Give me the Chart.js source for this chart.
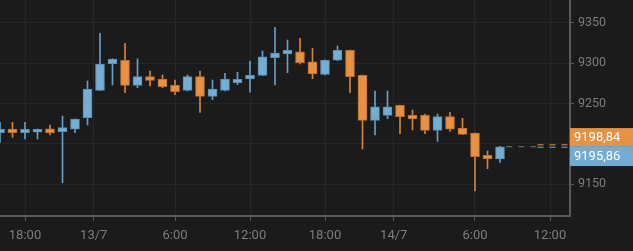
<!DOCTYPE html>
<html>
<head>
<meta charset="utf-8">
<script src="https://cdn.jsdelivr.net/npm/chart.js@4.4.1/dist/chart.umd.min.js"></script>
<style>
  html, body { margin: 0; padding: 0; background: #1b1b1b; }
  canvas { display: block; }
</style>
</head>
<body>
<canvas id="myChart" width="633" height="251"></canvas>
<script>
// hourly candles, x = hours after 12/7 18:00
const hours = [-2, -1, 0, 1, 2, 3, 4, 5, 6, 7, 8, 9, 10, 11, 12, 13, 14, 15, 16, 17, 18, 19, 20,
  21, 22, 23, 24, 25, 26, 27, 28, 29, 30, 31, 32, 33, 34, 35, 36, 37, 38];
const open = [9213.9, 9218.4, 9214.0, 9214.4, 9218.8, 9215.1, 9218.1, 9232.4, 9266.3, 9298.9, 9303.5,
  9272.5, 9283.2, 9280.3, 9272.5, 9266.3, 9283.2, 9258.9, 9266.3, 9275.7, 9280.3, 9284.9, 9306.7,
  9311.3, 9314.1, 9301.7, 9286.1, 9303.5, 9315.8, 9284.9, 9229.2, 9235.4, 9247.8, 9235.4, 9235.4,
  9216.8, 9233.7, 9219.7, 9213.5, 9185.9, 9181.3];
const high = [9226.7, 9226.7, 9226.7, 9218.5, 9223.4, 9234.5, 9231.0, 9277.8, 9336.9, 9305.5, 9324.5,
  9305.4, 9290.2, 9285.3, 9279.1, 9285.3, 9290.2, 9279.1, 9287.4, 9288.6, 9302.6, 9315.0, 9344.3,
  9328.6, 9330.7, 9318.3, 9304.0, 9321.2, 9316.0, 9285.3, 9265.5, 9265.5, 9248.0, 9242.0, 9237.0,
  9237.0, 9239.1, 9231.7, 9213.7, 9191.2, 9197.0];
const low = [9202.0, 9208.2, 9206.1, 9206.0, 9211.0, 9152.0, 9213.9, 9223.4, 9266.0, 9272.9, 9263.4,
  9269.6, 9271.7, 9269.6, 9260.9, 9265.5, 9239.1, 9254.7, 9265.5, 9273.3, 9263.9, 9284.5, 9272.9,
  9288.1, 9298.9, 9280.7, 9285.3, 9303.0, 9263.4, 9193.7, 9211.0, 9231.2, 9212.6, 9217.2, 9212.6,
  9203.2, 9215.6, 9211.5, 9141.7, 9169.3, 9177.2];
const close = [9218.4, 9213.9, 9218.2, 9218.1, 9213.5, 9220.1, 9230.8, 9268.0, 9298.9, 9305.1, 9272.5,
  9283.2, 9278.7, 9270.8, 9264.6, 9283.2, 9258.9, 9268.0, 9280.3, 9280.0, 9284.9, 9307.9, 9312.5,
  9315.8, 9300.5, 9286.5, 9303.5, 9315.8, 9283.2, 9229.2, 9246.0, 9246.0, 9233.7, 9230.8, 9216.8,
  9233.7, 9218.1, 9211.9, 9184.2, 9181.3, 9196.5];

// x axis ticks
const xTickPos = [0, 5.5, 12, 18, 24, 29.5, 36, 42];
const xTickLabels = ['18:00', '13/7', '6:00', '12:00', '18:00', '14/7', '6:00', '12:00'];

// price tags on the right
const tagValues = [9198.84, 9195.86];
const tagColors = ['#e69245', '#72acd0'];
const lastLineX = [38.5, 41];
const tagLineX = [41, 43.6];

const X_MIN = -2, X_MAX = 43.6;
const Y_MIN = 9110.8, Y_MAX = 9378.1;

const up = (i) => close[i] >= open[i];
const bodyFill = hours.map((h, i) => (up(i) ? '#75aed3' : '#e89142'));
const bodyBorder = hours.map((h, i) => (up(i) ? '#5a8db0' : '#b86f30'));
const wickColor = hours.map((h, i) => (up(i) ? '#66a0c6' : '#d5843a'));

const datasets = [
  {
    type: 'bar',
    label: 'wick',
    data: hours.map((h, i) => ({ x: h, y: [low[i], high[i]] })),
    backgroundColor: wickColor,
    barThickness: 1,
    grouped: false,
    order: 3,
  },
  {
    type: 'bar',
    label: 'body',
    data: hours.map((h, i) => ({ x: h, y: [open[i], close[i]] })),
    backgroundColor: bodyFill,
    borderColor: bodyBorder,
    borderWidth: 1,
    borderSkipped: false,
    barThickness: 9,
    minBarLength: 2,
    grouped: false,
    order: 2,
  },
  {
    type: 'line',
    label: 'last',
    data: lastLineX.map((x) => ({ x: x, y: close[close.length - 1] })),
    borderColor: '#777777',
    borderWidth: 1,
    borderDash: [6, 6],
    pointRadius: 0,
    order: 1,
  },
];
tagValues.forEach((v, j) => {
  datasets.push({
    type: 'line',
    label: 'tag' + j,
    data: tagLineX.map((x) => ({ x: x, y: v })),
    borderColor: tagColors[j],
    borderWidth: 1,
    borderDash: [6, 6],
    pointRadius: 0,
    order: 1,
  });
});

// boxes with the current prices, stacked so they do not overlap
const priceTags = {
  id: 'priceTags',
  afterDraw(chart) {
    const ctx = chart.ctx;
    const ys = chart.scales.y;
    const left = chart.chartArea.right;
    const mid = (ys.getPixelForValue(tagValues[0]) + ys.getPixelForValue(tagValues[1])) / 2;
    const boxes = [
      [mid - 18, 18],
      [mid, 20],
    ];
    ctx.save();
    ctx.font = '13px Roboto';
    ctx.textBaseline = 'middle';
    boxes.forEach((b, j) => {
      ctx.fillStyle = tagColors[j];
      ctx.fillRect(left, b[0], chart.width - left, b[1]);
      ctx.fillStyle = '#ffffff';
      ctx.fillText(tagValues[j].toFixed(2).replace('.', ','), left + 4, b[0] + b[1] / 2 + 1);
    });
    ctx.restore();
  },
};

// no extra room for the end labels, the plot runs to the edges
const noPadding = (scale) => {
  scale.paddingTop = 0;
  scale.paddingBottom = 0;
  scale.paddingLeft = 0;
  scale.paddingRight = 0;
};

var ctx = document.getElementById('myChart').getContext('2d');
window.myChart = new Chart(ctx, {
  type: 'bar',
  data: { datasets: datasets },
  options: {
    responsive: false,
    animation: false,
    events: [],
    plugins: { legend: { display: false }, tooltip: { enabled: false } },
    layout: { padding: 0 },
    scales: {
      x: {
        type: 'linear',
        min: X_MIN,
        max: X_MAX,
        offset: false,
        afterBuildTicks: (scale) => {
          scale.ticks = xTickPos.map((v) => ({ value: v }));
        },
        afterFit: (scale) => {
          scale.height = 35;
          noPadding(scale);
        },
        grid: { offset: false, color: '#262626', tickColor: '#5a5a5a', tickLength: 5 },
        border: { color: '#5a5a5a', width: 2 },
        ticks: {
          color: '#7d7d7d',
          font: { family: 'Roboto', size: 13 },
          padding: 7,
          maxRotation: 0,
          autoSkip: false,
          callback: (value, index) => xTickLabels[index],
        },
      },
      y: {
        type: 'linear',
        position: 'right',
        min: Y_MIN,
        max: Y_MAX,
        afterFit: (scale) => {
          scale.width = 63;
          noPadding(scale);
        },
        grid: { color: '#262626', tickColor: '#5a5a5a', tickLength: 4 },
        border: { color: '#5a5a5a', width: 2 },
        ticks: {
          stepSize: 50,
          includeBounds: false,
          color: '#7d7d7d',
          font: { family: 'Roboto', size: 12.5 },
          padding: 4,
          callback: (value) => String(value),
        },
      },
    },
  },
  plugins: [priceTags],
});
</script>
</body>
</html>
